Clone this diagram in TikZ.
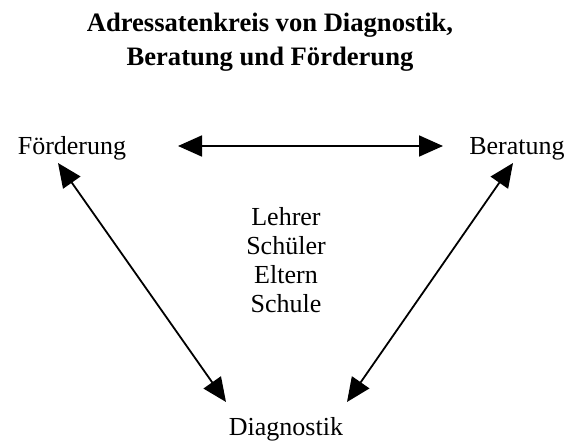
\documentclass[tikz,border=0pt]{standalone}
\usepackage{fontspec}
\setmainfont{Liberation Serif}
\usetikzlibrary{arrows.meta}
\begin{document}
\begin{tikzpicture}[x=1pt,y=-1pt,
  label/.style={inner sep=0pt,font=\fontsize{26}{29}\selectfont},
  titletext/.style={inner sep=0pt,align=center,font=\fontsize{26.6}{34}\selectfont\bfseries},
  link/.style={line width=1.8pt,{Triangle[length=24pt,width=21pt]}-{Triangle[length=24pt,width=21pt]}}]
  \useasboundingbox (0,0) rectangle (576,441);

  % heading (base anchor sits on the second line)
  \node[titletext,anchor=base] (title) at (270,66) {Adressatenkreis von Diagnostik,\\Beratung und Förderung};

  % the three corners
  \node[label,anchor=base] (foe) at (72,155) {Förderung};
  \node[label,anchor=base] (ber) at (517,155) {Beratung};
  \node[label,anchor=base] (dia) at (286,435) {Diagnostik};

  % addressees in the middle
  \node[label,align=center] (mid) at (286,260) {Lehrer\\Schüler\\Eltern\\Schule};

  % arrow ends
  \coordinate (fr) at (178,146);
  \coordinate (bl) at (443,146);
  \coordinate (fd) at (58,163);
  \coordinate (df) at (226,402);
  \coordinate (bd) at (513,163);
  \coordinate (db) at (347,402);

  \draw[link] (fr) -- (bl);
  \draw[link] (fd) -- (df);
  \draw[link] (bd) -- (db);
\end{tikzpicture}
\end{document}
